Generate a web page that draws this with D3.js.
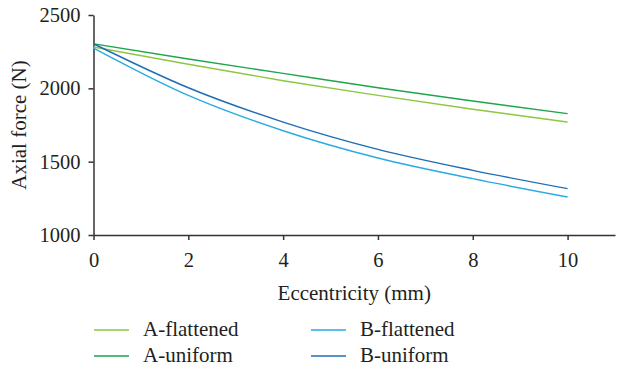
<!DOCTYPE html>
<html>
<head>
<meta charset="utf-8">
<script src="https://cdn.jsdelivr.net/npm/d3@7/dist/d3.min.js"></script>
<style>
  html, body { margin: 0; padding: 0; background: #fff; }
  svg { display: block; }
  text { font-family: "Liberation Serif", "DejaVu Serif", serif; fill: #231f20; }
</style>
</head>
<body>
<svg id="chart" width="617" height="370"></svg>
<script>
// Eccentricity (mm) sample positions
const eccentricity = [0, 2, 4, 6, 8, 10];

// Axial force (N) per configuration
const aFlattened = [2282, 2164, 2052, 1952, 1857, 1770];
const aUniform   = [2304, 2200, 2102, 2004, 1914, 1827];
const bFlattened = [2275, 1952, 1711, 1525, 1384, 1259];
const bUniform   = [2304, 2004, 1770, 1584, 1441, 1316];

const seriesNames = ["A-flattened", "A-uniform", "B-flattened", "B-uniform"];
const seriesValues = [aFlattened, aUniform, bFlattened, bUniform];
const seriesColors = ["#8dc63f", "#1fa54a", "#29abe2", "#1f6db5"];

const xTicks = [0, 2, 4, 6, 8, 10];
const yTicks = [1000, 1500, 2000, 2500];

const svg = d3.select("#chart");
const plotLeft = 93.5, plotRight = 615, plotTop = 15, plotBottom = 235;

const x = d3.scaleLinear().domain([0, 11]).range([plotLeft, plotRight]);
const y = d3.scaleLinear().domain([1000, 2500]).range([plotBottom, plotTop]);

const tickFont = 20.5;
const labelFont = 21;

// Axes
const xAxis = svg.append("g")
  .attr("transform", `translate(0,${plotBottom})`)
  .call(d3.axisBottom(x).tickValues(xTicks).tickFormat(d3.format("d")).tickSizeInner(5).tickSizeOuter(0).tickPadding(12));
const yAxis = svg.append("g")
  .attr("transform", `translate(${plotLeft},0)`)
  .call(d3.axisLeft(y).tickValues(yTicks).tickFormat(d3.format("d")).tickSizeInner(5).tickSizeOuter(0).tickPadding(8));

[xAxis, yAxis].forEach(g => {
  g.select(".domain").attr("stroke", "#333").attr("stroke-width", 1.5);
  g.selectAll(".tick line").attr("stroke", "#333").attr("stroke-width", 1.5);
  g.selectAll(".tick text")
    .attr("fill", "#231f20")
    .style("font-family", '"Liberation Serif", "DejaVu Serif", serif')
    .style("font-size", tickFont + "px");
});

// Axis titles
svg.append("text")
  .attr("x", (plotLeft + plotRight) / 2)
  .attr("y", 300)
  .attr("text-anchor", "middle")
  .style("font-size", labelFont + "px")
  .text("Eccentricity (mm)");

svg.append("text")
  .attr("transform", `translate(26,${(plotTop + plotBottom) / 2}) rotate(-90)`)
  .attr("text-anchor", "middle")
  .style("font-size", labelFont + "px")
  .text("Axial force (N)");

// Curves
const line = d3.line()
  .x((d, i) => x(eccentricity[i]))
  .y(d => y(d))
  .curve(d3.curveMonotoneX);

svg.append("g")
  .selectAll("path")
  .data(seriesValues)
  .join("path")
  .attr("d", d => line(d))
  .attr("fill", "none")
  .attr("stroke", (d, i) => seriesColors[i])
  .attr("stroke-width", 1.4);

// Legend: two columns, two rows
const legendPos = [
  { lx: 94, ty: 330 }, { lx: 94, ty: 356 },
  { lx: 311, ty: 330 }, { lx: 311, ty: 356 }
];
const legend = svg.append("g")
  .selectAll("g")
  .data(seriesNames)
  .join("g")
  .attr("transform", (d, i) => `translate(${legendPos[i].lx},${legendPos[i].ty})`);

legend.append("line")
  .attr("x1", 0).attr("x2", 35)
  .attr("y1", 0).attr("y2", 0)
  .attr("stroke", (d, i) => seriesColors[i])
  .attr("stroke-width", 1.4);

legend.append("text")
  .attr("x", 49)
  .attr("y", 6)
  .style("font-size", labelFont + "px")
  .text(d => d);
</script>
</body>
</html>
